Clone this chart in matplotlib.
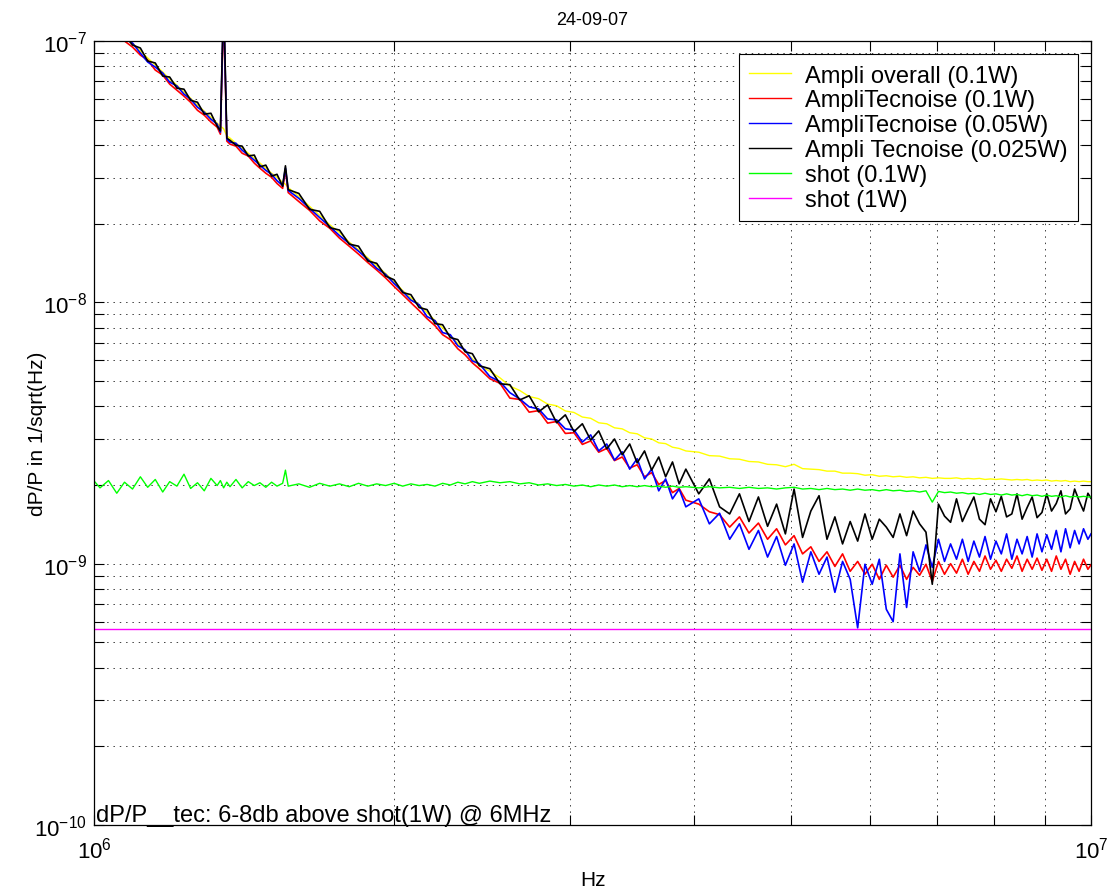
import numpy as np
import matplotlib
matplotlib.use('Agg')
import matplotlib.pyplot as plt
from matplotlib.ticker import LogLocator, NullFormatter

plt.rcParams['font.family'] = ['Liberation Sans', 'DejaVu Sans']
plt.rcParams['mathtext.default'] = 'regular'

# frequencies in MHz
freq_mhz = [
    0.975, 0.995, 1.014, 1.034, 1.054,
    1.073, 1.093, 1.113, 1.132, 1.152, 1.172, 1.191, 1.211, 1.231, 1.250,
    1.270, 1.290, 1.310, 1.329, 1.339, 1.349, 1.359, 1.369, 1.388, 1.408,
    1.428, 1.448, 1.467, 1.487, 1.507, 1.526, 1.546, 1.556, 1.566,
    1.605, 1.645, 1.684, 1.724, 1.763, 1.803, 1.842, 1.882, 1.921, 1.961,
    2.000, 2.040, 2.079, 2.119, 2.158, 2.198, 2.237, 2.277, 2.317, 2.356,
    2.396, 2.435,
    2.495, 2.554, 2.613, 2.673, 2.732, 2.792, 2.851, 2.911, 2.970, 3.030,
    3.089, 3.149, 3.208, 3.268, 3.327, 3.387, 3.446, 3.506, 3.566, 3.625,
    3.685, 3.744, 3.804, 3.863, 3.923,
    4.042, 4.142, 4.241, 4.341, 4.440, 4.539, 4.639, 4.738, 4.838, 4.937,
    5.037, 5.137, 5.236, 5.336, 5.435, 5.535, 5.634, 5.734, 5.834, 5.933,
    6.033, 6.133, 6.233, 6.332, 6.432, 6.532, 6.631, 6.731, 6.831, 6.931,
    7.031, 7.130, 7.230, 7.330, 7.430, 7.530, 7.630, 7.729, 7.829, 7.929,
    8.029, 8.129, 8.229, 8.329, 8.429, 8.529, 8.629, 8.729, 8.829, 8.929,
    9.029, 9.129, 9.229, 9.329, 9.429, 9.529, 9.629, 9.729, 9.829, 9.929,
    10.0,
]

# dP/P values in units of 1e-9 / sqrt(Hz)
ampli_overall = [
    148, 138, 128, 120, 112,
    104.5, 98.2, 91.7, 86.1, 81.0, 76.1, 71.5, 67.8, 63.7, 60.4,
    56.8, 53.9, 51.1, 48.5, 47.2, 46.2, 43.3, 42.5, 40.6, 38.9,
    37.2, 35.6, 34.1, 32.6, 31.2, 30.1, 28.8, 28.3, 27.5,
    25.4, 23.3, 21.5, 19.8, 18.5, 17.0, 15.9, 14.8, 13.8, 12.9,
    12.0, 11.1, 10.4, 9.79, 9.13, 8.53, 7.98, 7.46, 6.96, 6.52,
    6.09, 5.70,
    5.45, 5.14, 4.78, 4.60, 4.36, 4.28, 4.08, 4.02, 3.84, 3.79,
    3.64, 3.60, 3.46, 3.43, 3.31, 3.28, 3.17, 3.14, 3.03, 3.00,
    2.90, 2.88, 2.79, 2.76, 2.70,
    2.67, 2.59, 2.58, 2.52, 2.51, 2.46, 2.45, 2.40, 2.39, 2.35,
    2.40, 2.31, 2.30, 2.29, 2.26, 2.26, 2.22, 2.22, 2.21, 2.18,
    2.19, 2.16, 2.17, 2.15, 2.16, 2.14, 2.15, 2.13, 2.14, 2.12,
    2.13, 2.12, 2.12, 2.13, 2.11, 2.12, 2.11, 2.12, 2.10, 2.11,
    2.10, 2.11, 2.10, 2.09, 2.10, 2.09, 2.10, 2.08, 2.09, 2.08,
    2.09, 2.07, 2.08, 2.07, 2.08, 2.06, 2.07, 2.06, 2.07, 2.06,
    2.06,
]

tec_01w = [
    145, 134, 126, 117, 110,
    100, 94.8, 88.3, 84.6, 77.4, 74.1, 68.4, 64.8, 61.5, 58.3,
    54.3, 52.0, 49.0, 46.8, 44.0, 130, 41.4, 40.3, 39.6, 37.2,
    36.3, 34.1, 32.6, 31.2, 30.1, 28.5, 27.3, 32.0, 26.3,
    24.3, 22.5, 20.5, 19.2, 17.6, 16.4, 15.3, 14.2, 13.3, 12.4,
    11.5, 10.7, 9.97, 9.30, 8.66, 8.14, 7.52, 7.20, 6.64, 6.30,
    5.87, 5.57,
    5.10, 4.90, 4.30, 4.25, 3.80, 3.85, 3.45, 3.50, 3.15, 3.17,
    2.86, 2.95, 2.67, 2.76, 2.48, 2.56, 2.32, 2.39, 2.15, 2.23,
    2.01, 2.08, 1.87, 1.94, 1.75,
    1.69, 1.58, 1.54, 1.38, 1.51, 1.31, 1.43, 1.24, 1.36, 1.18,
    1.28, 1.09, 1.16, 1.02, 1.11, 0.976, 1.09, 0.935, 1.02, 0.911,
    0.995, 0.871, 0.986, 0.888, 0.986, 0.871, 0.968, 0.903, 0.995, 0.854,
    1.02, 0.911, 1.00, 0.920, 1.04, 0.911, 1.02, 0.935, 1.07, 0.952,
    1.03, 0.935, 1.04, 0.960, 1.07, 0.935, 1.04, 0.952, 1.05, 0.943,
    1.04, 0.935, 1.07, 0.952, 1.04, 0.911, 1.02, 0.935, 1.04, 0.952,
    0.99,
]

tec_005w = [
    146, 136, 127, 119, 111,
    102.7, 98.2, 89.9, 83.1, 79.5, 75.4, 69.6, 67.3, 62.6, 59.9,
    55.8, 53.4, 50.2, 48.1, 44.8, 140, 42.1, 41.0, 40.6, 38.2,
    36.6, 35.0, 33.5, 32.0, 30.9, 29.2, 28.0, 32.6, 26.8,
    25.0, 22.9, 21.1, 19.5, 18.0, 16.8, 15.7, 14.6, 13.5, 12.8,
    11.8, 11.0, 10.2, 9.79, 8.82, 8.51, 7.66, 7.52, 6.82, 6.58,
    5.97, 5.82,
    5.20, 4.97, 4.51, 4.27, 3.98, 3.91, 3.58, 3.55, 3.28, 3.25,
    2.92, 3.11, 2.70, 2.87, 2.49, 2.68, 2.30, 2.52, 2.11, 2.30,
    1.90, 2.11, 1.77, 1.93, 1.65,
    1.77, 1.42, 1.56, 1.24, 1.42, 1.135, 1.34, 1.06, 1.27, 0.986,
    1.19, 0.849, 1.11, 0.911, 1.06, 0.777, 1.02, 0.871, 0.568, 0.995,
    0.834, 1.04, 0.669, 0.600, 1.09, 0.680, 1.11, 0.935, 1.18, 0.968,
    1.24, 1.02, 1.19, 1.04, 1.24, 1.02, 1.22, 1.06, 1.27, 1.04,
    1.22, 1.09, 1.30, 1.04, 1.24, 1.09, 1.27, 1.06, 1.30, 1.11,
    1.29, 1.135, 1.34, 1.11, 1.36, 1.15, 1.34, 1.19, 1.36, 1.24,
    1.30,
]

tec_0025w = [
    148, 138, 128, 120, 112,
    105.4, 96.5, 94.0, 83.8, 82.4, 73.4, 72.8, 66.0, 65.4, 59.3,
    58.3, 52.5, 52.9, 47.2, 45.3, 150, 42.5, 41.7, 39.9, 39.6,
    36.3, 36.6, 33.0, 33.5, 30.4, 30.9, 27.8, 33.3, 27.0,
    26.1, 22.7, 22.3, 19.3, 18.9, 16.7, 16.4, 14.4, 14.1, 12.6,
    12.2, 10.9, 10.7, 9.55, 9.38, 8.29, 8.21, 7.33, 7.20, 6.47,
    6.36, 5.72,
    5.57, 4.88, 4.84, 4.23, 4.39, 3.81, 4.05, 3.46, 3.71, 3.20,
    3.43, 2.97, 3.22, 2.75, 3.00, 2.61, 2.87, 2.43, 2.70, 2.28,
    2.56, 2.15, 2.45, 2.02, 2.30,
    1.85, 2.11, 1.65, 1.55, 1.85, 1.45, 1.80, 1.39, 1.69, 1.30,
    1.93, 1.26, 1.59, 1.82, 1.24, 1.51, 1.19, 1.45, 1.22, 1.55,
    1.24, 1.48, 1.38, 1.26, 1.55, 1.28, 1.59, 1.42, 1.32, 0.834,
    1.69, 1.52, 1.44, 1.77, 1.45, 1.62, 1.80, 1.48, 1.41, 1.77,
    1.58, 1.81, 1.51, 1.55, 1.85, 1.48, 1.64, 1.80, 1.50, 1.57,
    1.85, 1.59, 1.70, 1.90, 1.55, 1.62, 1.93, 1.74, 1.59, 1.86,
    1.78,
]

shot_01w = [
    1.92, 2.12, 1.95, 2.08, 1.86,
    2.05, 1.93, 2.15, 1.96, 2.10, 1.88, 2.06, 1.98, 2.20, 1.94,
    2.04, 1.90, 2.12, 1.99, 2.08, 1.95, 2.05, 1.97, 2.10, 1.95,
    2.06, 1.99, 2.04, 1.96, 2.05, 1.98, 2.03, 2.28, 1.98,
    2.02, 1.96, 2.03, 1.98, 2.02, 1.97, 2.03, 1.98, 2.02, 1.99,
    2.03, 1.98, 2.02, 1.99, 2.01, 1.98, 2.03, 2.00, 2.05, 2.02,
    2.06, 2.03,
    2.07, 2.04, 2.06, 2.02, 2.04, 2.00, 2.02, 1.99, 2.01, 1.98,
    2.00, 1.97, 2.00, 1.98, 2.00, 1.97, 1.99, 1.97, 1.99, 1.97,
    1.98, 1.96, 1.98, 1.96, 1.97,
    1.95, 1.97, 1.95, 1.96, 1.94, 1.96, 1.94, 1.95, 1.93, 1.95,
    1.96, 1.93, 1.94, 1.92, 1.94, 1.92, 1.93, 1.91, 1.93, 1.91,
    1.92, 1.90, 1.92, 1.90, 1.91, 1.89, 1.90, 1.88, 1.90, 1.72,
    1.89, 1.87, 1.88, 1.86, 1.87, 1.85, 1.86, 1.84, 1.86, 1.84,
    1.85, 1.83, 1.85, 1.83, 1.84, 1.82, 1.84, 1.82, 1.83, 1.81,
    1.83, 1.81, 1.82, 1.80, 1.82, 1.80, 1.81, 1.80, 1.81, 1.80,
    1.80,
]

shot_1w_freq = [1.0, 10.0]
shot_1w = [0.56, 0.56]

series = [
    (ampli_overall, (1, 1, 0), 1.0, 'Ampli overall (0.1W)'),
    (tec_01w, (1, 0, 0), 1.2, 'AmpliTecnoise (0.1W)'),
    (tec_005w, (0, 0, 1), 1.2, 'AmpliTecnoise (0.05W)'),
    (tec_0025w, (0, 0, 0), 1.2, 'Ampli Tecnoise (0.025W)'),
    (shot_01w, (0, 1, 0), 1.0, 'shot (0.1W)'),
]

f = np.array(freq_mhz) * 1e6

fig = plt.figure(figsize=(11.09, 8.95), dpi=100)
ax = fig.add_axes([94 / 1109, 1 - 826 / 895, 997 / 1109, 784 / 895])

for vals, col, lw, lab in series:
    ax.plot(f, np.array(vals) * 1e-9, color=col, lw=lw, label=lab)
ax.plot(np.array(shot_1w_freq) * 1e6, np.array(shot_1w) * 1e-9,
        color=(1, 0, 1), lw=1.0, label='shot (1W)')

ax.set_xscale('log')
ax.set_yscale('log')
ax.set_xlim(1e6, 1e7)
ax.set_ylim(1e-10, 1e-7)

ax.set_xticks([1e6, 1e7])
ax.set_xticklabels(['$10^{6}$', '$10^{7}$'])
ax.set_yticks([1e-10, 1e-9, 1e-8, 1e-7])
ax.set_yticklabels(['$10^{-10}$', '$10^{-9}$', '$10^{-8}$', '$10^{-7}$'])
for axis in (ax.xaxis, ax.yaxis):
    axis.set_minor_locator(LogLocator(base=10, subs=np.arange(2, 10)))
    axis.set_minor_formatter(NullFormatter())

ax.set_axisbelow(True)
ax.grid(True, which='both', linestyle=(0, (1.5, 5)), color='0.25', lw=0.7)
ax.tick_params(which='both', direction='in', top=True, right=True,
               length=7, width=0.8, labelsize=16)
ax.tick_params(axis='x', pad=8)
ax.tick_params(axis='y', pad=5)
for s in ax.spines.values():
    s.set_linewidth(0.9)

ax.set_title('24-09-07', fontsize=13, pad=12)
ax.set_xlabel('Hz', fontsize=15, va='top')
ax.xaxis.set_label_coords(0.5, -0.057)
ax.set_ylabel('dP/P in 1/sqrt(Hz)', fontsize=15)
ax.yaxis.set_label_coords(-0.047, 0.5)

ax.text(0.002, 0.005, 'dP/P__tec: 6-8db above shot(1W) @ 6MHz',
        transform=ax.transAxes, fontsize=17, ha='left', va='baseline')

leg = ax.legend(loc='upper right', fontsize=17, fancybox=False,
                edgecolor='black', framealpha=1, borderpad=0.45,
                labelspacing=0.12, handlelength=1.75, handletextpad=0.6,
                borderaxespad=0.55)
leg.get_frame().set_linewidth(0.8)
for h in leg.get_lines():
    h.set_linewidth(1.0)

fig.savefig('out.png', dpi=100)
